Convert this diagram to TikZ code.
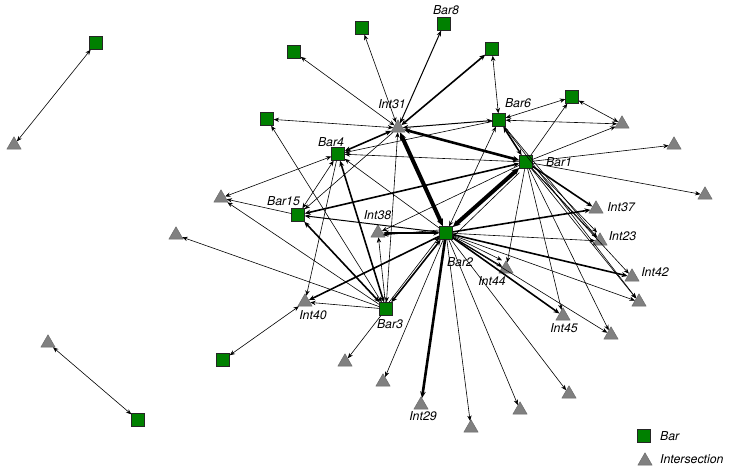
\documentclass[tikz,border=0pt]{standalone}
\usepackage{fontspec}
\setmainfont{TeX Gyre Heros}
\usetikzlibrary{arrows.meta,shapes.geometric}
\definecolor{barg}{RGB}{0,128,0}
\definecolor{intg}{RGB}{128,128,128}
\begin{document}
\begin{tikzpicture}[x=1pt,y=-1pt,
  >={Stealth[length=5pt 0.6,width=4pt 0.6]},
  bar/.style={draw=black!85,fill=barg,minimum size=13pt,inner sep=0pt,line width=0.4pt},
  inter/.style={regular polygon,regular polygon sides=3,draw=black!60,fill=intg,minimum size=16.5pt,inner sep=0pt,line width=0.4pt,yshift=-2pt},
  lab/.style={font=\fontsize{12.3}{14}\selectfont\itshape,inner sep=0pt},
  ea/.style={line width=0.6pt},
  eb/.style={line width=1pt},
  ec/.style={line width=1.6pt},
  ed/.style={line width=2.6pt},
  ee/.style={line width=4pt}]
\useasboundingbox (0,0) rectangle (729,470);
\fill[white] (0,0) rectangle (729,470);
% bars
\node[bar] (Ba) at (96,43) {};
\node[bar] (Bb) at (294,52) {};
\node[bar] (Btop) at (362,28) {};
\node[bar] (Bar8) at (444,24) {};
\node[bar] (Bd) at (492,49) {};
\node[bar] (Be) at (572,97) {};
\node[bar] (Bar6) at (499,120) {};
\node[bar] (Bf) at (267,119) {};
\node[bar] (Bar4) at (338,154) {};
\node[bar] (Bar1) at (526,162) {};
\node[bar] (Bar15) at (298,215) {};
\node[bar] (Bar2) at (446,233) {};
\node[bar] (Bar3) at (386,309) {};
\node[bar] (Bg) at (223,360) {};
\node[bar] (Bh) at (138,420) {};
% intersections
\node[inter] (Ta) at (14,143) {};
\node[inter] (Int31) at (398,126) {};
\node[inter] (Tb) at (622,122) {};
\node[inter] (Tc) at (674,143) {};
\node[inter] (Td) at (705,193) {};
\node[inter] (Int37) at (596,207) {};
\node[inter] (Int23) at (600,239) {};
\node[inter] (Int38) at (378,231) {};
\node[inter] (Te) at (221,196) {};
\node[inter] (Tf) at (176,233) {};
\node[inter] (Int42) at (632,275) {};
\node[inter] (Tg) at (639,300) {};
\node[inter] (Int44) at (506,267) {};
\node[inter] (Int45) at (563,314) {};
\node[inter] (Th) at (611,333) {};
\node[inter] (Int40) at (305,300) {};
\node[inter] (Ti) at (48,341) {};
\node[inter] (Tj) at (345,360) {};
\node[inter] (Tk) at (383,380) {};
\node[inter] (Int29) at (421,403) {};
\node[inter] (Tl) at (471,426) {};
\node[inter] (Tm) at (520,408) {};
\node[inter] (Tn) at (569,392) {};
% edges
\draw[ea,<->] (Ba) -- (Ta);
\draw[ea,<->] (Bh) -- (Ti);
\draw[ea,<->] (Bg) -- (Int40);
\draw[ea,<->] (Int31) -- (Bb);
\draw[ea,<->] (Int31) -- (Btop);
\draw[eb,<->] (Int31) -- (Bar8);
\draw[ec,<->] (Int31) -- (Bd);
\draw[ea,<->] (Int31) -- (Bf);
\draw[ec,<->] (Int31) -- (Bar4);
\draw[eb,<->] (Int31) -- (Bar6);
\draw[ed,<->] (Int31) -- (Bar1);
\draw[ee,<->] (Int31) -- (Bar2);
\draw[ea,<->] (Bar3) -- (Int31);
\draw[ea,->] (Int31) -- (Bar15);
\draw[ea,->] (Bar1) -- (Bar4);
\draw[ea,->] (Bar6) -- (Bar4);
\draw[ea,<->] (Bar4) -- (Te);
\draw[ea,<->] (Bar4) -- (Bar15);
\draw[ec,<->] (Bar4) -- (Bar3);
\draw[ea,->] (Bar2) -- (Bar4);
\draw[ea,->] (Bar4) -- (Int40);
\draw[ec,<->] (Bar1) -- (Bar15);
\draw[eb,->] (Bar2) -- (Bar15);
\draw[ec,<->] (Bar15) -- (Bar3);
\draw[ea,->] (Bar15) -- (Te);
\draw[ea,->] (Bar3) -- (Te);
\draw[ea,->] (Bar3) -- (Tf);
\draw[ea,->] (Bar3) -- (Int40);
\draw[ec,->] (Bar2) -- (Int40);
\draw[ec,<->] (Bar2) -- (Int38);
\draw[ea,->] ([yshift=3pt]Bar2.west) -- ([yshift=-2pt]Int38.east);
\draw[ea,->] (Bar3) -- (Int38);
\draw[ea,->] (Bar1) -- (Int38);
\draw[ec,<->] (Bar3) -- (Bar2);
\draw[ea,->] ([xshift=3pt]Bar3.north) -- ([yshift=-4pt]Bar2.west);
\draw[ea,->] (Bar3) -- (Tj);
\draw[ea,<->] (Bar3) -- (Bf);
\draw[ed,->] (Bar2) -- (Int29);
\draw[ea,->] (Bar2) -- (Tk);
\draw[ea,->] (Bar2) -- (Tl);
\draw[ea,->] (Bar2) -- (Tm);
\draw[ea,->] (Bar2) -- (Tn);
\draw[ea,->] (Bar2) -- (Th);
\draw[ec,->] (Bar2) -- (Int45);
\draw[eb,->] (Bar2) -- (Int44);
\draw[ea,->] ([yshift=-3pt]Bar2.east) -- ([xshift=-4pt]Int44.north);
\draw[ea,->] (Bar2) -- (Tg);
\draw[ec,->] (Bar2) -- (Int42);
\draw[ea,->] (Bar2) -- (Int23);
\draw[ec,->] (Bar2) -- (Int37);
\draw[ee,<->] (Bar2) -- (Bar1);
\draw[ea] ([yshift=-4pt]Bar2.east) -- ([yshift=-4pt]Bar1.south west);
\draw[ea,<->] (Bar2) -- (Bar6);
\draw[ec,<->] (Bar1) -- (Bar6);
\draw[ea,->] (Bar1) -- (Be);
\draw[ea,->] (Bar1) -- (Tb);
\draw[ea,->] (Bar1) -- (Tc);
\draw[ea,->] (Bar1) -- (Td);
\draw[ec,->] (Bar1) -- (Int37);
\draw[ea,->] (Bar1) -- (Int23);
\draw[ea,->] ([xshift=3pt]Bar1.south east) -- ([xshift=-3pt]Int23.north);
\draw[ea,->] (Bar1) -- (Int42);
\draw[ea,->] (Bar1) -- (Tg);
\draw[ea,->] (Bar1) -- (Int44);
\draw[ea,->] (Bar1) -- (Int45);
\draw[ea,->] (Bar1) -- (Th);
\draw[ea,<->] (Bar6) -- (Bd);
\draw[ea,<->] (Bar6) -- (Be);
\draw[ea,<->] (Tb) -- (Bar6);
\draw[ea,<->] (Be) -- (Tb);
\draw[ea,->] (Bar6) -- (Int23);
\draw[ea,->] (Bar6) -- (Tg);
% labels
\node[lab] (lBar8) at (446,10) {Bar8};
\node[lab] (lInt31) at (392,104) {Int31};
\node[lab] (lBar6) at (518,103) {Bar6};
\node[lab] (lBar4) at (331,142) {Bar4};
\node[lab] (lBar1) at (559,162) {Bar1};
\node[lab] (lInt37) at (621,207) {Int37};
\node[lab] (lInt23) at (622.5,236) {Int23};
\node[lab] (lInt42) at (655,272) {Int42};
\node[lab] (lInt44) at (492,281) {Int44};
\node[lab] (lInt45) at (564,328) {Int45};
\node[lab] (lInt29) at (423,416) {Int29};
\node[lab] (lBar2) at (460,262) {Bar2};
\node[lab] (lInt38) at (377.5,215) {Int38};
\node[lab] (lBar15) at (283.5,201) {Bar15};
\node[lab] (lInt40) at (313,315) {Int40};
\node[lab] (lBar3) at (390,324) {Bar3};
% legend
\node[bar] (legB) at (644,436) {};
\node[inter] (legT) at (645,459) {};
\node[lab,anchor=west] (legBt) at (660,436) {Bar};
\node[lab,anchor=west] (legTt) at (660,459) {Intersection};
\end{tikzpicture}
\end{document}
